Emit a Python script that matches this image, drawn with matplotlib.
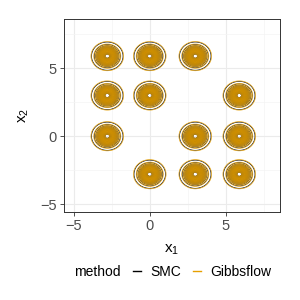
import matplotlib
matplotlib.use("Agg")
import matplotlib.pyplot as plt
from matplotlib.lines import Line2D
from matplotlib.offsetbox import HPacker
import numpy as np

# mixture component centres
centre_x = [-2.8, 0.0, 3.0, -2.8, 0.0, 5.9, -2.8, 3.0, 5.9, 0.0, 3.0, 5.9]
centre_y = [5.9, 5.9, 5.9, 3.0, 3.0, 3.0, 0.0, 0.0, 0.0, -2.8, -2.8, -2.8]
methods = ["SMC", "Gibbsflow"]
colours = ["black", "#E69F00"]
spread = [0.37, 0.385]

plt.rcParams["font.family"] = ["Liberation Sans", "DejaVu Sans"]

fig = plt.figure(figsize=(3, 3), dpi=100)
ax = fig.add_axes([0.213, 0.293, 0.72, 0.643])

gx = np.linspace(-5.6, 8.6, 700)
gy = np.linspace(-5.6, 8.6, 700)
X, Y = np.meshgrid(gx, gy)

for m, col, s in zip(methods, colours, spread):
    Z = np.zeros_like(X)
    for cx, cy in zip(centre_x, centre_y):
        Z += np.exp(-((X - cx) ** 2 + (Y - cy) ** 2) / (2 * s ** 2))
    levels = np.linspace(0.02, 0.93, 20)
    ax.contour(X, Y, Z, levels=levels, colors=col, linewidths=0.45)

ax.set_xlim(-5.66, 8.58)
ax.set_ylim(-5.59, 8.62)
ax.set_xticks([-5, 0, 5])
ax.set_yticks([-5, 0, 5])
ax.set_xticklabels(["\u22125", "0", "5"])
ax.set_yticklabels(["\u22125", "0", "5"])
ax.set_xticks([-2.5, 2.5, 7.5], minor=True)
ax.set_yticks([-2.5, 2.5, 7.5], minor=True)
ax.grid(True, which="major", color="#ebebeb", linewidth=0.8)
ax.grid(True, which="minor", color="#f4f4f4", linewidth=0.5)
ax.set_axisbelow(True)
ax.tick_params(which="major", length=3, color="#333333", labelsize=10.5,
               labelcolor="#4d4d4d", width=0.6, pad=2)
ax.tick_params(which="minor", length=0)
for sp in ax.spines.values():
    sp.set_color("#333333")
    sp.set_linewidth(0.7)

ax.set_xlabel("$\\mathregular{x_1}$", fontsize=11, labelpad=7)
ax.set_ylabel("$\\mathregular{x_2}$", fontsize=11, labelpad=7)

handles = [Line2D([], [], color=c, linewidth=1) for c in colours]
leg = fig.legend(handles, methods, loc="center", bbox_to_anchor=(0.575, 0.093),
                 ncol=2, frameon=False, fontsize=10, handlelength=0.55,
                 columnspacing=0.9, handletextpad=0.65, title="method")
leg.get_title().set_fontsize(10)
# put the title on the same row as the entries
title_box = leg._legend_title_box
entries = leg._legend_handle_box
leg._legend_box._children = [HPacker(pad=0, sep=9, children=[title_box, entries], align="center")]

fig.savefig("out.png", dpi=100)
